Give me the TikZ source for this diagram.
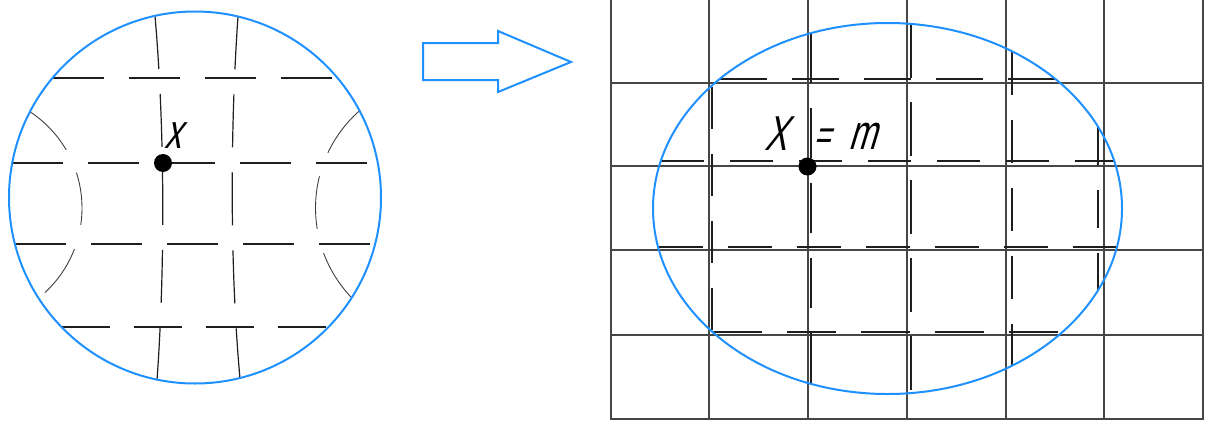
\documentclass[tikz,border=0pt]{standalone}
\usepackage{fontspec}
\newfontfamily\gost[FakeSlant=0.3,FakeStretch=0.68]{Liberation Sans}
\definecolor{cblue}{RGB}{30,144,255}
\definecolor{gridc}{RGB}{70,70,70}
\definecolor{dashc}{RGB}{30,30,30}
\begin{document}
\begin{tikzpicture}[x=1pt,y=-1pt,
  blueline/.style={draw=cblue,line width=2pt},
  dsh/.style={draw=dashc,line width=1.2pt,dash pattern=on 51pt off 25pt},
  thinarc/.style={draw=dashc!85,line width=0.9pt,dash pattern=on 53pt off 25pt},
  gridline/.style={draw=gridc,line width=1.3pt},
  dot/.style={circle,fill=black,inner sep=0pt,minimum size=18pt},
  lbl/.style={inner sep=0pt,anchor=base west,font=\gost\fontsize{49}{49}\selectfont}]
\useasboundingbox (0,0) rectangle (1214,423);
% ---------- left: distorted grid in circle
\draw[dsh] (53,78) -- (337,78);
\draw[dsh] (12,163) -- (378,163);
\draw[dsh] (15,244) -- (375,244);
\draw[dsh,dash pattern=on 48pt off 24pt] (61.5,327) -- (328.5,327);
\draw[dsh,dash pattern=on 53pt off 25pt] (155,16) .. controls (165,130) and (165,270) .. (157,380);
\draw[dsh,dash pattern=on 53pt off 25pt] (238,16.5) .. controls (230,130) and (230,270) .. (240,378.5);
\draw[thinarc] (-33,208) ++(-56.8:115) arc[start angle=-56.8,end angle=51.6,radius=115];
\draw[thinarc] (445,208) ++(228.7:129.5) arc[start angle=228.7,end angle=136.1,radius=129.5];
\draw[blueline] (195,197.5) circle[radius=186];
\node[dot] (p1) at (163,163) {};
\node[lbl] (lx) at (164,148) {x};
% ---------- arrow
\draw[blueline,line join=miter] (423,43) -- (498,43) -- (498,31) -- (571,62) -- (498,92) -- (498,80) -- (423,80) -- cycle;
% ---------- right: regular grid
\foreach \x in {611,709,808,907,1006,1104,1203} \draw[gridline] (\x,0) -- (\x,419);
\foreach \y in {83,166,250,335,419} \draw[gridline,line cap=rect] (611,\y) -- (1203,\y);
% dashed stretched grid
\draw[dsh,dash pattern=on 47pt off 25pt] (719.5,79) -- (1055.5,79);
\draw[dsh,dash pattern=on 43pt off 26pt] (661,161) -- (1114,161);
\draw[dsh,dash pattern=on 44pt off 25pt] (658.5,247) -- (1116.5,247);
\draw[dsh,dash pattern=on 49pt off 25pt] (712.5,332) -- (1062.5,332);
\draw[dsh,dash pattern=on 42pt off 25pt] (712,87) -- (712,331.5);
\draw[dsh,dash pattern=on 50pt off 25pt] (811,33) -- (811,384);
\draw[dsh,dash pattern=on 54pt off 24pt] (911,24) -- (911,393);
\draw[dsh,dash pattern=on 43pt off 25pt] (1012,51.5) -- (1012,365.5);
\draw[dsh,dash pattern=on 38pt off 25pt] (1098,127) -- (1098,290);
\draw[blueline] (887.5,208.5) ellipse[x radius=234.5,y radius=185.5];
\node[dot] (p2) at (807.5,166.5) {};
\node[lbl] (rX) at (764,150) {X};
\node[lbl,font=\gost\fontsize{42}{42}\selectfont] (req) at (813,149) {=};
\node[lbl] (rm) at (848,149) {m};
\end{tikzpicture}
\end{document}
